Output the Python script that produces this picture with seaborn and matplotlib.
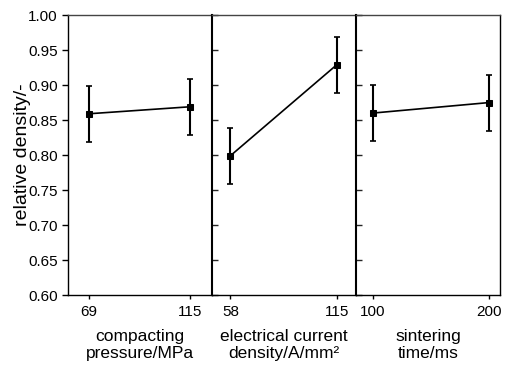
import matplotlib
matplotlib.use("Agg")
import matplotlib.pyplot as plt
import seaborn as sns
import pandas as pd

sns.set_theme(style="ticks")
plt.rcParams['font.family'] = ['Liberation Sans', 'DejaVu Sans']

# data
factors = ["compacting\npressure/MPa", "electrical current\ndensity/A/mm\u00b2", "sintering\ntime/ms"]
levels = [[69, 115], [58, 115], [100, 200]]
means = [[0.859, 0.869], [0.799, 0.929], [0.860, 0.875]]
errors = [[0.04, 0.04], [0.04, 0.04], [0.04, 0.04]]
xlims = [(59.5, 124.9), (48.2, 125.3), (85.3, 209.3)]
yticks = [0.60, 0.65, 0.70, 0.75, 0.80, 0.85, 0.90, 0.95, 1.00]

fig, axes = plt.subplots(1, 3, figsize=(5.05, 3.67), dpi=100, sharey=True)
fig.subplots_adjust(left=0.135, right=0.990, bottom=0.196, top=0.959, wspace=0)

for i, ax in enumerate(axes):
    df = pd.DataFrame({"x": levels[i], "y": means[i]})
    ax.errorbar(df["x"], df["y"], yerr=errors[i], fmt='none', ecolor='black',
                elinewidth=1.5, capsize=2.5, capthick=1.2, zorder=2)
    sns.lineplot(data=df, x="x", y="y", ax=ax, color='black', marker='s',
                 markersize=4.5, markeredgecolor='black', linewidth=1.2, zorder=3)
    ax.set_xlim(*xlims[i])
    ax.set_xticks(levels[i])
    ax.set_xticklabels([str(v) for v in levels[i]])
    ax.set_ylim(0.60, 1.00)
    ax.set_yticks(yticks)
    ax.set_xlabel(factors[i], fontsize=12.5, color='black', labelpad=7, linespacing=1.2)
    ax.set_ylabel("")
    ax.tick_params(axis='x', direction='out', length=3, width=1, labelsize=11, colors='black', pad=4)
    for s in ax.spines.values():
        s.set_color('black')
        s.set_linewidth(1.0)
    ax.spines['top'].set_color('#444444')
    if i == 0:
        ax.tick_params(axis='y', direction='out', length=4, width=1, labelsize=11, colors='black')
        ax.set_yticklabels([f"{v:.2f}" for v in yticks])
    else:
        ax.tick_params(axis='y', direction='in', length=4, width=1, labelleft=False)
        ax.spines['left'].set_linewidth(1.5)

axes[0].set_ylabel("relative density/-", fontsize=14, color='black', labelpad=-2)

fig.savefig("out.png", dpi=100, facecolor='white')
